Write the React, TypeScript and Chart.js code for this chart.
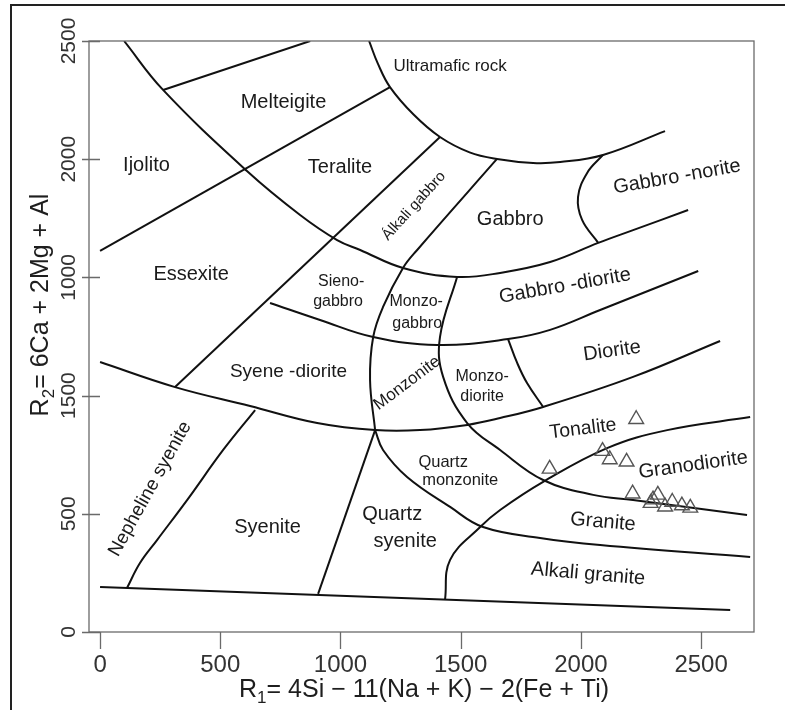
import { useEffect, useRef } from "react";
import { Chart, registerables } from "chart.js";

Chart.register(...registerables);

const FONT = '"Liberation Sans", Arial, Helvetica, sans-serif';

// Sample compositions plotted as open triangles (R1, R2)
const sampleR1 = [2230, 2090, 2120, 2190, 1870, 2215, 2320, 2300, 2290, 2380, 2350, 2420, 2455];
const sampleR2 = [900, 765, 730, 720, 690, 585, 580, 560, 545, 550, 530, 535, 525];

// Axis ticks
const xTickValues = [0, 500, 1000, 1500, 2000, 2500];
const xTickLabels = ["0", "500", "1000", "1500", "2000", "2500"];
const yTickValues = [0, 500, 1000, 1500, 2000, 2500];
const yTickLabels = ["0", "500", "1500", "1000", "2000", "2500"];

// Field boundaries, as [R1, R2] vertices
const outerArc = [[100, 2500], [262, 2293], [611, 1950], [832, 1764], [986, 1658], [1082, 1616], [1260, 1540], [1485, 1502], [1664, 1519], [1872, 1565], [2072, 1646], [2217, 1700], [2446, 1785]];
const ultramaficArc = [[1119, 2500], [1156, 2403], [1206, 2305], [1304, 2189], [1414, 2094], [1537, 2029], [1651, 2001], [1801, 1984], [1914, 1988], [2092, 2018], [2350, 2119]];
const gabbroNoriteEdge = [[2092, 2018], [2026, 1942], [1988, 1840], [2005, 1743], [2072, 1646]];
const ijolitoEdge = [[0, 1612], [1206, 2305]];
const melteigiteEdge = [[262, 2293], [874, 2500]];
const teraliteEdge = [[1414, 2094], [312, 1036]];
const monzoniteEdge = [[1651, 2001], [1319, 1616], [1260, 1540], [1177, 1375], [1136, 1248], [1123, 1066], [1144, 854]];
const syeniteEdge = [[1144, 854], [907, 161]];
const quartzSyeniteEdge = [[1144, 854], [1177, 770], [1277, 656], [1456, 529], [1593, 444], [1830, 398], [2080, 368], [2704, 317]];
const granodioriteEdge = [[1435, 138], [1456, 305], [1581, 444], [1664, 516], [1843, 635], [2109, 778], [2359, 854], [2704, 909]];
const tonaliteEdge = [[1485, 1502], [1414, 1248], [1427, 1079], [1527, 884], [1664, 770], [1843, 643], [2051, 580], [2217, 558], [2691, 495]];
const gabbroDioriteEdge = [[707, 1392], [915, 1320], [1136, 1248], [1402, 1214], [1697, 1239], [1872, 1278], [2080, 1362], [2488, 1527]];
const syeneDioriteEdge = [[0, 1142], [312, 1036], [624, 956], [903, 884], [1144, 854], [1331, 854], [1527, 876], [1664, 905], [1843, 952], [2217, 1079], [2579, 1231]];
const dioriteEdge = [[1697, 1239], [1735, 1138], [1776, 1053], [1843, 952]];
const nephelineEdge = [[645, 939], [512, 770], [362, 558], [237, 389], [166, 292], [112, 186]];
const baseEdge = [[0, 190], [2621, 93]];

const boundaries: { pts: number[][]; smooth: boolean }[] = [
  { pts: outerArc, smooth: true },
  { pts: ultramaficArc, smooth: true },
  { pts: gabbroNoriteEdge, smooth: true },
  { pts: ijolitoEdge, smooth: false },
  { pts: melteigiteEdge, smooth: false },
  { pts: teraliteEdge, smooth: false },
  { pts: monzoniteEdge, smooth: true },
  { pts: syeniteEdge, smooth: false },
  { pts: quartzSyeniteEdge, smooth: true },
  { pts: granodioriteEdge, smooth: true },
  { pts: tonaliteEdge, smooth: true },
  { pts: gabbroDioriteEdge, smooth: true },
  { pts: syeneDioriteEdge, smooth: true },
  { pts: dioriteEdge, smooth: true },
  { pts: nephelineEdge, smooth: true },
  { pts: baseEdge, smooth: false },
];

// Rock names placed inside their fields (R1, R2 anchor, font size, angle in degrees)
type FieldName = { text: string; r1: number; r2: number; size: number; angle: number };
const fieldNames: FieldName[] = [
  { text: "Ijolito", r1: 193, r2: 1975, size: 20, angle: 0 },
  { text: "Melteigite", r1: 763, r2: 2238, size: 20, angle: 0 },
  { text: "Ultramafic rock", r1: 1456, r2: 2394, size: 17, angle: 0 },
  { text: "Teralite", r1: 998, r2: 1963, size: 20, angle: 0 },
  { text: "Álkali gabbro", r1: 1306, r2: 1802, size: 15, angle: -48 },
  { text: "Gabbro", r1: 1706, r2: 1743, size: 20, angle: 0 },
  { text: "Gabbro -norite", r1: 2400, r2: 1925, size: 20, angle: -10 },
  { text: "Essexite", r1: 379, r2: 1514, size: 20, angle: 0 },
  { text: "Sieno-", r1: 1003, r2: 1481, size: 16, angle: 0 },
  { text: "gabbro", r1: 990, r2: 1396, size: 16, angle: 0 },
  { text: "Monzo-", r1: 1315, r2: 1396, size: 16, angle: 0 },
  { text: "gabbro", r1: 1319, r2: 1303, size: 16, angle: 0 },
  { text: "Gabbro -diorite", r1: 1934, r2: 1464, size: 20, angle: -10 },
  { text: "Diorite", r1: 2130, r2: 1189, size: 20, angle: -8 },
  { text: "Syene -diorite", r1: 784, r2: 1100, size: 19, angle: 0 },
  { text: "Monzonite", r1: 1277, r2: 1053, size: 17, angle: -37 },
  { text: "Monzo-", r1: 1589, r2: 1079, size: 16, angle: 0 },
  { text: "diorite", r1: 1589, r2: 994, size: 16, angle: 0 },
  { text: "Nepheline syenite", r1: 208, r2: 605, size: 19, angle: -61 },
  { text: "Syenite", r1: 697, r2: 444, size: 20, angle: 0 },
  { text: "Quartz", r1: 1215, r2: 495, size: 20, angle: 0 },
  { text: "syenite", r1: 1269, r2: 385, size: 20, angle: 0 },
  { text: "Quartz", r1: 1427, r2: 719, size: 16.5, angle: 0 },
  { text: "monzonite", r1: 1498, r2: 639, size: 16.5, angle: 0 },
  { text: "Tonalite", r1: 2009, r2: 859, size: 19.5, angle: -7 },
  { text: "Granodiorite", r1: 2467, r2: 706, size: 20, angle: -8 },
  { text: "Granite", r1: 2092, r2: 465, size: 20, angle: 5 },
  { text: "Alkali granite", r1: 2030, r2: 245, size: 20, angle: 5 },
];

type Part = [string, boolean];
const xTitle: Part[] = [["R", false], ["1", true], ["= 4Si \u2212 11(Na + K) \u2212 2(Fe + Ti)", false]];
const yTitle: Part[] = [["R", false], ["2", true], ["= 6Ca + 2Mg + Al", false]];

function drawRich(ctx: CanvasRenderingContext2D, parts: Part[], cx: number, baseline: number, size: number) {
  const subSize = size * 0.68;
  let total = 0;
  for (const [t, sub] of parts) {
    ctx.font = `${sub ? subSize : size}px ${FONT}`;
    total += ctx.measureText(t).width;
  }
  let x = cx - total / 2;
  ctx.textAlign = "left";
  ctx.textBaseline = "alphabetic";
  for (const [t, sub] of parts) {
    ctx.font = `${sub ? subSize : size}px ${FONT}`;
    ctx.fillText(t, x, sub ? baseline + size * 0.22 : baseline);
    x += ctx.measureText(t).width;
  }
}

const paperPlugin = {
  id: "paper",
  beforeDraw(chart: any) {
    const ctx = chart.ctx as CanvasRenderingContext2D;
    ctx.save();
    ctx.fillStyle = "#ffffff";
    ctx.fillRect(0, 0, chart.width, chart.height);
    // outer frame
    ctx.strokeStyle = "#222";
    ctx.lineWidth = 2;
    ctx.beginPath();
    ctx.moveTo(11, chart.height);
    ctx.lineTo(11, 5);
    ctx.lineTo(chart.width, 5);
    ctx.stroke();
    ctx.restore();
  },
};

const axesPlugin = {
  id: "axesFrame",
  afterDatasetsDraw(chart: any) {
    const ctx = chart.ctx as CanvasRenderingContext2D;
    const { left, right, top, bottom } = chart.chartArea;
    const xs = chart.scales.x;
    const ys = chart.scales.y;
    ctx.save();
    ctx.strokeStyle = "#6a6a6a";
    ctx.lineWidth = 1.3;
    ctx.strokeRect(left, top, right - left, bottom - top);

    ctx.beginPath();
    yTickValues.forEach((v) => {
      const py = Math.round(ys.getPixelForValue(v)) + 0.5;
      ctx.moveTo(left - 7, py);
      ctx.lineTo(left + 11, py);
    });
    xTickValues.forEach((v) => {
      const px = Math.round(xs.getPixelForValue(v)) + 0.5;
      ctx.moveTo(px, bottom);
      ctx.lineTo(px, bottom + 17);
    });
    ctx.stroke();

    ctx.fillStyle = "#333";
    ctx.font = `24px ${FONT}`;
    ctx.textAlign = "center";
    ctx.textBaseline = "alphabetic";
    xTickValues.forEach((v, i) => {
      ctx.fillText(xTickLabels[i], xs.getPixelForValue(v), bottom + 40);
    });

    ctx.font = `21px ${FONT}`;
    yTickValues.forEach((v, i) => {
      ctx.save();
      ctx.translate(left - 14, ys.getPixelForValue(v));
      ctx.rotate(-Math.PI / 2);
      ctx.fillText(yTickLabels[i], 0, 0);
      ctx.restore();
    });

    ctx.fillStyle = "#1e1e1e";
    drawRich(ctx, xTitle, 424, bottom + 65, 25);
    ctx.save();
    ctx.translate(48, 305);
    ctx.rotate(-Math.PI / 2);
    drawRich(ctx, yTitle, 0, 0, 25);
    ctx.restore();

    // rock field names
    ctx.fillStyle = "#1a1a1a";
    ctx.textAlign = "center";
    ctx.textBaseline = "middle";
    fieldNames.forEach((f) => {
      ctx.save();
      ctx.translate(xs.getPixelForValue(f.r1), ys.getPixelForValue(f.r2));
      ctx.rotate((f.angle * Math.PI) / 180);
      ctx.font = `${f.size}px ${FONT}`;
      ctx.fillText(f.text, 0, 0);
      ctx.restore();
    });
    ctx.restore();
  },
};

export default function App() {
  const canvasRef = useRef<HTMLCanvasElement | null>(null);

  useEffect(() => {
    const canvas = canvasRef.current;
    if (!canvas) return;

    const samples = {
      data: sampleR1.map((x, i) => ({ x, y: sampleR2[i] })),
      showLine: false,
      pointStyle: "triangle",
      pointRadius: 8.5,
      pointBorderWidth: 1.4,
      pointBorderColor: "#555",
      pointBackgroundColor: "rgba(255,255,255,0)",
      borderColor: "#555",
      backgroundColor: "rgba(255,255,255,0)",
    };

    const lines = boundaries.map((b) => ({
      data: b.pts.map(([x, y]) => ({ x, y })),
      showLine: true,
      borderColor: "#111",
      borderWidth: 2,
      pointRadius: 0,
      tension: b.smooth ? 0.4 : 0,
      fill: false,
    }));

    const chart = new Chart(canvas, {
      type: "scatter",
      data: { datasets: [samples as any, ...lines] },
      options: {
        animation: false,
        responsive: false,
        events: [],
        layout: { padding: { left: 89, top: 41, right: 31, bottom: 78 } },
        scales: {
          x: { type: "linear", min: -46, max: 2720, display: false },
          y: { type: "linear", min: 0, max: 2500, display: false },
        },
        plugins: { legend: { display: false }, tooltip: { enabled: false } },
      },
      plugins: [paperPlugin, axesPlugin],
    });

    return () => chart.destroy();
  }, []);

  return (
    <div style={{ position: "fixed", left: 0, top: 0, width: 785, height: 710, background: "#fff" }}>
      <canvas ref={canvasRef} width={785} height={710} style={{ width: 785, height: 710, display: "block" }} />
    </div>
  );
}
